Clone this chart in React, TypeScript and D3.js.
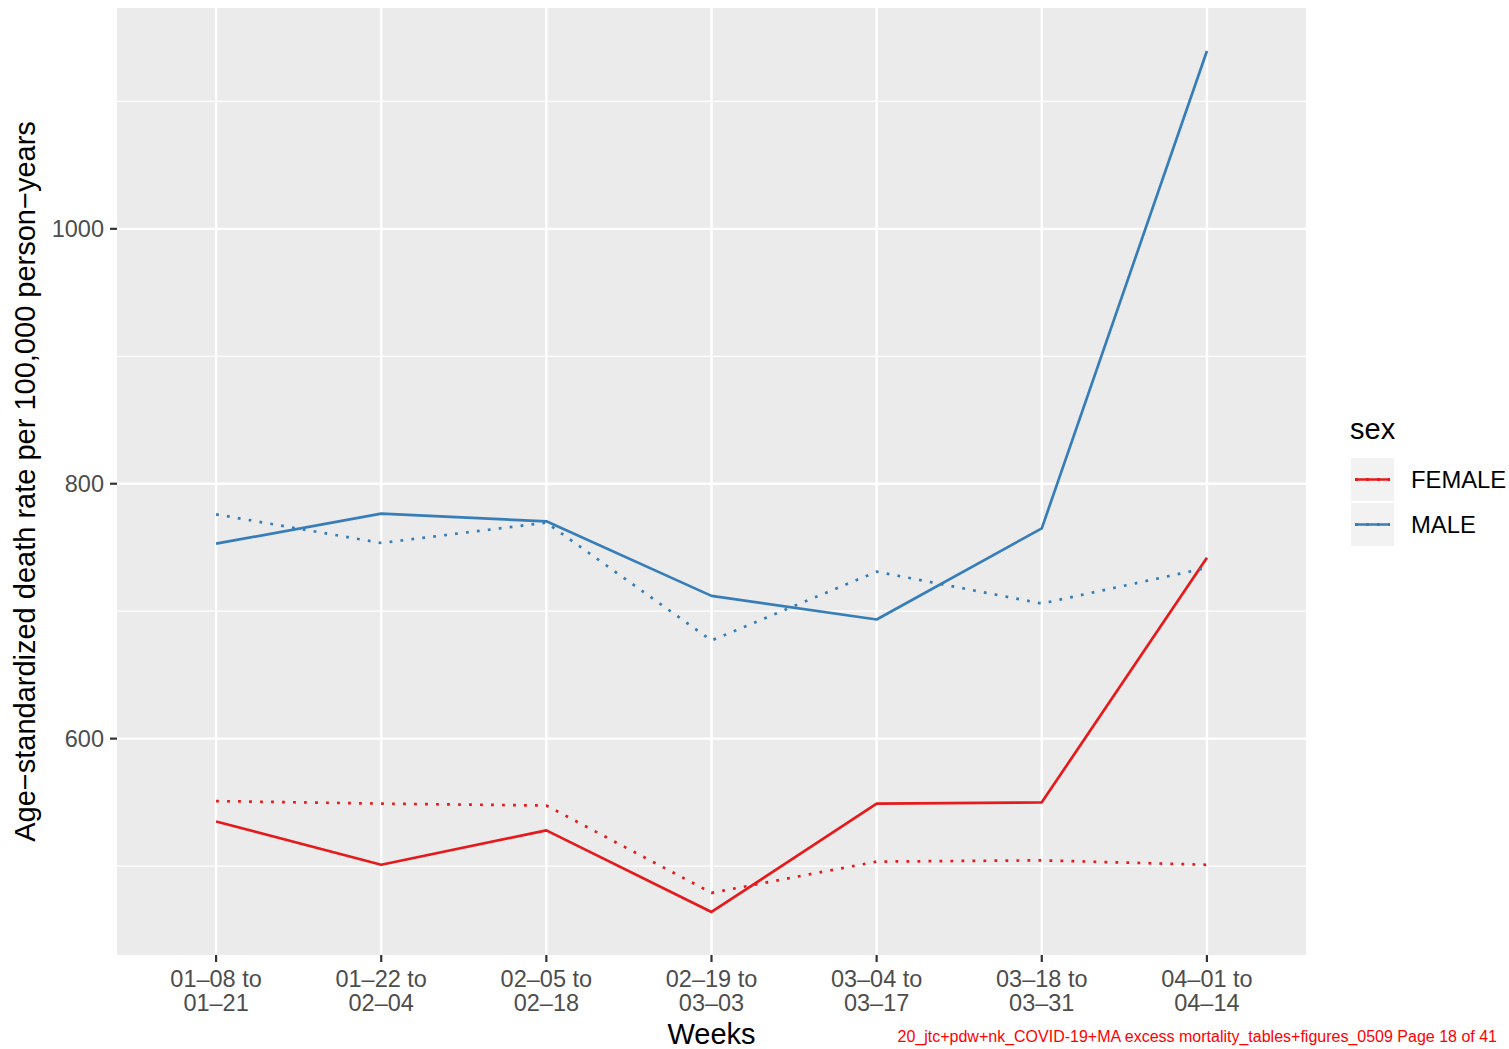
import React from "react";
import * as d3 from "d3";

const weeks = ["01\u201308 to\n01\u201321", "01\u201322 to\n02\u201304", "02\u201305 to\n02\u201318", "02\u201319 to\n03\u201303", "03\u201304 to\n03\u201317", "03\u201318 to\n03\u201331", "04\u201301 to\n04\u201314"];
const femaleObserved = [535, 501, 528, 464, 549, 550, 742];
const femaleExpected = [551, 549, 547.5, 479, 503.5, 504.5, 501];
const maleObserved = [753, 776.5, 770.5, 712, 693.5, 765, 1139.5];
const maleExpected = [776, 753.5, 769.5, 677, 731, 706, 734];
const yTicks = [600, 800, 1000];
const yMinor = [500, 700, 900, 1100];
const sexes = ["FEMALE", "MALE"];
const colors = ["#E41A1C", "#377EB8"];

const W = 1509, H = 1049;
const left = 117, right = 1306, top = 8, bottom = 955;

export default function App() {
  const all = [...femaleObserved, ...femaleExpected, ...maleObserved, ...maleExpected];
  const mn = d3.min(all)!, mx = d3.max(all)!;
  const pad = (mx - mn) * 0.05;
  const y = d3.scaleLinear().domain([mn - pad, mx + pad]).range([bottom, top]);
  const x = d3.scalePoint<string>().domain(weeks).range([left, right]).padding(0.6);
  const line = d3.line<number>().x((_, i) => x(weeks[i])!).y(d => y(d));
  const dots = "2.8 8.2";
  const series = [
    { v: femaleObserved, c: colors[0], dash: null },
    { v: femaleExpected, c: colors[0], dash: dots },
    { v: maleObserved, c: colors[1], dash: null },
    { v: maleExpected, c: colors[1], dash: dots },
  ];
  const font = "'Liberation Sans', Arial, sans-serif";
  return (
    <svg width={W} height={H} style={{ position: "absolute", left: 0, top: 0, fontFamily: font }}>
      <rect x={0} y={0} width={W} height={H} fill="white" />
      <rect x={left} y={top} width={right - left} height={bottom - top} fill="#EBEBEB" />
      {yMinor.map(t => (
        <line key={"m" + t} x1={left} x2={right} y1={y(t)} y2={y(t)} stroke="white" strokeWidth={1.2} />
      ))}
      {yTicks.map(t => (
        <line key={"g" + t} x1={left} x2={right} y1={y(t)} y2={y(t)} stroke="white" strokeWidth={2.4} />
      ))}
      {weeks.map(w => (
        <line key={w} x1={x(w)} x2={x(w)} y1={top} y2={bottom} stroke="white" strokeWidth={2.4} />
      ))}
      {series.map((s, i) => (
        <path key={i} d={line(s.v)!} fill="none" stroke={s.c} strokeWidth={2.7}
          strokeDasharray={s.dash ?? undefined} strokeLinejoin="round" />
      ))}
      {yTicks.map(t => (
        <g key={"t" + t}>
          <line x1={left - 7} x2={left} y1={y(t)} y2={y(t)} stroke="#333" strokeWidth={2.2} />
          <text x={left - 13} y={y(t)} dy="0.35em" textAnchor="end" fontSize={23.5} fill="#4D4D4D">{t}</text>
        </g>
      ))}
      {weeks.map(w => {
        const parts = w.split("\n");
        return (
          <g key={"x" + w}>
            <line x1={x(w)} x2={x(w)} y1={bottom} y2={bottom + 7} stroke="#333" strokeWidth={2.2} />
            <text x={x(w)} y={987} textAnchor="middle" fontSize={23.5} fill="#4D4D4D">{parts[0]}</text>
            <text x={x(w)} y={1011} textAnchor="middle" fontSize={23.5} fill="#4D4D4D">{parts[1]}</text>
          </g>
        );
      })}
      <text x={(left + right) / 2} y={1044} textAnchor="middle" fontSize={29} fill="black">Weeks</text>
      <text transform={`translate(35, ${(top + bottom) / 2}) rotate(-90)`} textAnchor="middle" fontSize={29} fill="black">
        Age−standardized death rate per 100,000 person−years
      </text>
      <text x={1350} y={439} fontSize={29} fill="black">sex</text>
      {sexes.map((s, i) => (
        <g key={s} transform={`translate(1351, ${458 + i * 45})`}>
          <rect x={0} y={0} width={43} height={43} fill="#F2F2F2" />
          <line x1={4} x2={39} y1={21.5} y2={21.5} stroke={colors[i]} strokeWidth={2.7} />
          <line x1={4} x2={39} y1={21.5} y2={21.5} stroke={colors[i]} strokeWidth={2.9} strokeDasharray={dots} />
          <text x={60} y={21.5} dy="0.36em" fontSize={23.8} fill="black">{s}</text>
        </g>
      ))}
      <text x={1497} y={1042} textAnchor="end" fontSize={16} fill="#FF0000">
        20_jtc+pdw+nk_COVID-19+MA excess mortality_tables+figures_0509 Page 18 of 41
      </text>
    </svg>
  );
}
